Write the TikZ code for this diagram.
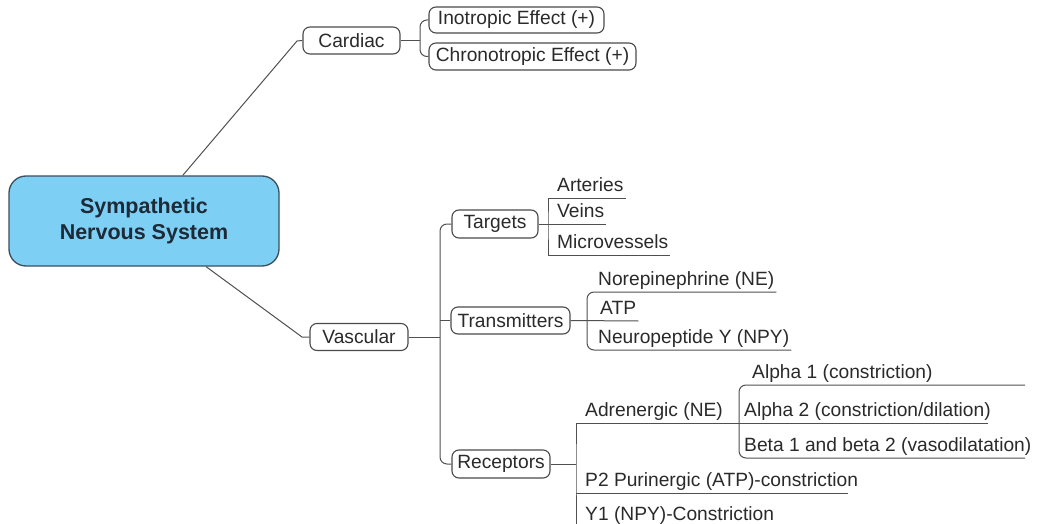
\documentclass[tikz,border=0pt]{standalone}
\usepackage{fontspec}
\setmainfont{Liberation Sans}
\definecolor{rootfill}{HTML}{7ECFF4}
\definecolor{rootline}{HTML}{3A4E5C}
\definecolor{roottext}{HTML}{1E2A38}
\definecolor{boxgray}{HTML}{4A4A4A}
\definecolor{linkgray}{HTML}{505050}
\definecolor{txtgray}{HTML}{2A2A2A}
\begin{document}
\begin{tikzpicture}[x=1pt,y=-1pt,
    font=\fontsize{19.2}{23}\selectfont, text=txtgray,
    root/.style={draw=rootline, fill=rootfill, line width=1.3pt, rounded corners=17pt,
        minimum width=270pt, minimum height=90pt, align=center, text=roottext,
        font=\bfseries\fontsize{21.5}{26.5}\selectfont},
    topic/.style={draw=boxgray, line width=1.1pt, rounded corners=7pt,
        minimum height=27pt, inner sep=0pt},
    leaf/.style={anchor=south west, inner xsep=2pt, inner ysep=6pt, text depth=0pt},
    link/.style={draw=linkgray, line width=1pt},
    brace/.style={link, rounded corners=7pt}]
    \useasboundingbox (0,0) rectangle (1041,524);

    % Central topic
    \node[root] (root) at (144,221) {Sympathetic\\Nervous System};

    % Main branches
    \node[topic, minimum width=97pt] (cardiac) at (351.5,40.5) {Cardiac};
    \node[topic, minimum width=98pt] (vascular) at (359,337) {Vascular};
    \coordinate (cbend) at (297,41);
    \coordinate (vbend) at (302,337);
    \draw[link] (root) -- (cbend) -- (cardiac.west);
    \draw[link] (root) -- (vbend) -- (vascular.west);

    % Cardiac effects
    \node[topic, minimum width=175pt, minimum height=26pt] (inotropic) at (516.5,20) {Inotropic Effect (+)};
    \node[topic, minimum width=207pt] (chrono) at (532.5,56.5) {Chronotropic Effect (+)};
    \coordinate (cbr) at (420,40.5);
    \draw[link] (cardiac.east) -- (cbr);
    \draw[brace] (inotropic.west) -| (cbr) |- (chrono.west);

    % Vascular subtopics
    \node[topic, minimum width=86pt, minimum height=28pt] (targets) at (495,224) {Targets};
    \node[topic, minimum width=119pt] (transmitters) at (510.5,320.5) {Transmitters};
    \node[topic, minimum width=98pt, minimum height=28pt] (receptors) at (501,464) {Receptors};
    \coordinate (vbr) at (440,337);
    \draw[link] (vascular.east) -- (vbr);
    \draw[brace] (targets.west) -| (vbr) |- (receptors.west);
    \draw[link] (vbr |- transmitters) -- (transmitters.west);

    % Targets
    \node[leaf] (arteries) at (555,198) {Arteries};
    \node[leaf] (veins) at (555,224) {Veins};
    \node[leaf] (micro) at (555,255) {Microvessels};
    \coordinate (tbr) at (548,224);
    \draw[link] (targets.east) -- (veins.south east);
    \draw[link] (arteries.south east) -| (tbr) |- (micro.south east);

    % Transmitters
    \node[leaf] (norepi) at (596,292) {Norepinephrine (NE)};
    \node[leaf] (atp) at (598,321) {ATP};
    \node[leaf] (npy) at (596,350) {Neuropeptide Y (NPY)};
    \coordinate (trbr) at (587,321);
    \draw[link] (transmitters.east) -- (atp.south east);
    \draw[brace] (norepi.south east) -| (trbr) |- (npy.south east);

    % Receptors
    \node[leaf] (adren) at (583,423) {Adrenergic (NE)};
    \node[leaf] (ptwo) at (583,493) {P2 Purinergic (ATP)-constriction};
    \node[leaf] (yone) at (583,527) {Y1 (NPY)-Constriction};
    \coordinate (rbr) at (576,464);
    \coordinate (atwoend) at (988,423);
    \coordinate (ptwoend) at (848,493);
    \draw[link] (receptors.east) -- (rbr);
    \draw[link] (atwoend) -| (rbr) |- (yone.south east);
    \draw[link] (rbr |- ptwo.south) -- (ptwoend);

    % Adrenergic subtypes
    \node[leaf] (aone) at (750,385) {Alpha 1 (constriction)};
    \node[leaf] (atwo) at (742,423) {Alpha 2 (constriction/dilation)};
    \node[leaf] (beta) at (742,458) {Beta 1 and beta 2 (vasodilatation)};
    \coordinate (abr) at (739,423);
    \coordinate (aoneend) at (1025,385);
    \coordinate (betaend) at (1025,458);
    \draw[brace] (aoneend) -| (abr) |- (betaend);
\end{tikzpicture}
\end{document}
